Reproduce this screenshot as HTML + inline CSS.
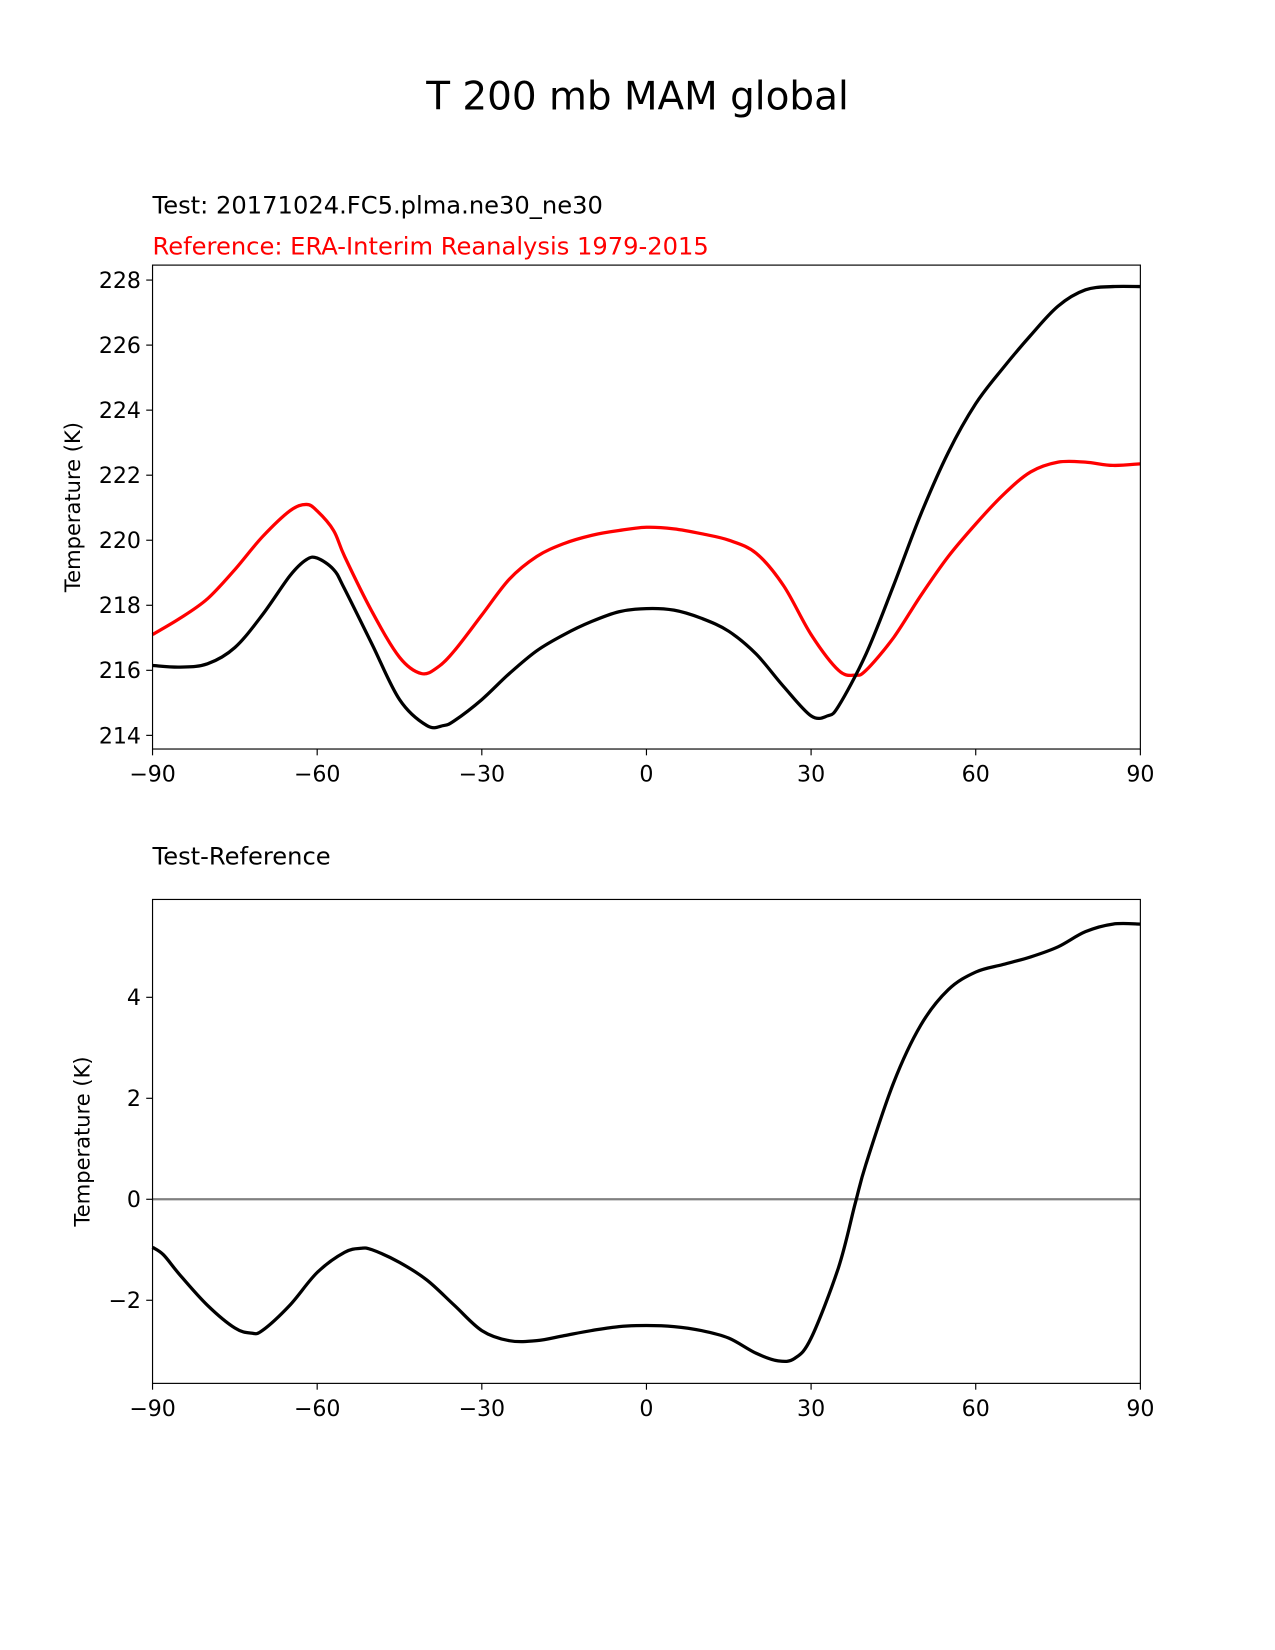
<!DOCTYPE html>
<html><head><meta charset="utf-8"><style>body{margin:0;background:#fff}svg{display:block;font-family:"DejaVu Sans","Liberation Sans",sans-serif}</style></head>
<body>
<svg width="1275" height="1650" viewBox="0 0 1275 1650">
<g id="s" transform="scale(1.052)">
<text x="606" y="104" font-size="37" text-anchor="middle">T 200 mb MAM global</text>
<text x="145" y="203" font-size="23">Test: 20171024.FC5.plma.ne30_ne30</text>
<text x="145" y="242" font-size="23" fill="#f00">Reference: ERA-Interim Reanalysis 1979-2015</text>
<text x="145" y="822" font-size="23">Test-Reference</text>
</g>
</svg>
<script>
const latTest=[-90,-85,-80,-75,-70,-65,-62,-60,-57,-55,-50,-45,-40,-37,-35,-30,-25,-20,-15,-10,-5,0,5,10,15,20,25,30,33,35,40,45,50,55,60,65,70,75,80,85,90];
const testVals=[216.15,216.1,216.2,216.7,217.7,218.9,219.4,219.45,219.1,218.5,216.8,215.1,214.3,214.3,214.45,215.1,215.9,216.6,217.1,217.5,217.8,217.9,217.85,217.6,217.2,216.5,215.5,214.6,214.6,214.9,216.5,218.6,220.8,222.7,224.2,225.3,226.3,227.2,227.7,227.8,227.8];
const latRef=[-90,-85,-80,-75,-70,-65,-62,-60,-57,-55,-50,-45,-41,-38,-35,-30,-25,-20,-15,-10,-5,0,5,10,15,20,25,30,35,38,40,45,50,55,60,65,70,75,80,85,90];
const refVals=[217.1,217.6,218.2,219.1,220.1,220.9,221.1,220.9,220.3,219.5,217.8,216.4,215.9,216.1,216.6,217.7,218.8,219.5,219.9,220.15,220.3,220.4,220.35,220.2,220.0,219.6,218.6,217.1,216.0,215.85,216.0,217.0,218.3,219.5,220.5,221.4,222.1,222.4,222.4,222.3,222.35];
const latDiff=[-90,-88,-85,-80,-75,-72,-70,-65,-60,-55,-52,-50,-45,-40,-35,-30,-25,-20,-15,-10,-5,0,5,10,15,20,24,27,30,35,38,40,45,50,55,60,65,70,75,80,85,90];
const diffVals=[-0.95,-1.1,-1.5,-2.1,-2.55,-2.65,-2.6,-2.1,-1.45,-1.05,-0.97,-1.0,-1.25,-1.6,-2.1,-2.6,-2.8,-2.8,-2.7,-2.6,-2.52,-2.5,-2.52,-2.6,-2.75,-3.05,-3.2,-3.15,-2.75,-1.35,-0.1,0.7,2.3,3.45,4.15,4.5,4.65,4.8,5.0,5.3,5.45,5.45];
const xTicks=[-90,-60,-30,0,30,60,90];
const xTickLabels=["\u221290","\u221260","\u221230","0","30","60","90"];
const topYTicks=[214,216,218,220,222,224,226,228];
const botYTicks=[-2,0,2,4];
const botYTickLabels=["\u22122","0","2","4"];

const NS="http://www.w3.org/2000/svg",svg=document.getElementById('s');
function mk(t,a,p){const e=document.createElementNS(NS,t);for(const k in a)e.setAttribute(k,a[k]);(p||svg).appendChild(e);return e;}
const X0=145,X1=1084;
const xs=v=>X0+(v+90)/180*(X1-X0);
function panel(top,bot,ymin,ymax,name){
  const ys=v=>bot-(v-ymin)/(ymax-ymin)*(bot-top);
  const g=mk('g',{});
  
  
  return {g,ys,top,bot};
}
function axes(P,yt,ytl,ylabX){
  const {g,ys,top,bot}=P;
  xTicks.forEach((t,i)=>{
    const x=xs(t);
    const l=mk('line',{x1:x,x2:x,y1:bot,y2:bot+6,stroke:'#000','stroke-width':1.1},g);
    
    const tx=mk('text',{x:x,y:bot+31,'font-size':21,'text-anchor':'middle'},g);tx.textContent=xTickLabels[i];
    
  });
  yt.forEach((t,i)=>{
    const y=ys(t);
    const l=mk('line',{x1:X0-6,x2:X0,y1:y,y2:y,stroke:'#000','stroke-width':1.1},g);
    
    const tx=mk('text',{x:X0-11,y:y+7.5,'font-size':21,'text-anchor':'end'},g);tx.textContent=ytl[i];
    
  });
  const yl=mk('text',{x:ylabX,y:(top+bot)/2,'font-size':20,'text-anchor':'middle',transform:`rotate(-90 ${ylabX} ${(top+bot)/2})`},g);
  yl.textContent='Temperature (K)';
  
}
function line(P,lats,vals,color,name){
  const p=lats.map((l,i)=>[xs(l),P.ys(vals[i])]);
  let d='M'+p[0][0].toFixed(1)+','+p[0][1].toFixed(1);
  for(let i=0;i<p.length-1;i++){
    const a=p[i-1]||p[i],b=p[i],c=p[i+1],e=p[i+2]||p[i+1];
    const c1=[b[0]+(c[0]-a[0])/6,b[1]+(c[1]-a[1])/6],c2=[c[0]-(e[0]-b[0])/6,c[1]-(e[1]-b[1])/6];
    d+=` C${c1[0].toFixed(1)},${c1[1].toFixed(1)} ${c2[0].toFixed(1)},${c2[1].toFixed(1)} ${c[0].toFixed(1)},${c[1].toFixed(1)}`;
  }
  const pl=mk('path',{d:d,fill:'none',stroke:color,'stroke-width':3.1,'stroke-linejoin':'round'},P.g);
  
}
function frame(P){
  const r=mk('rect',{x:X0,y:P.top,width:X1-X0,height:P.bot-P.top,fill:'none',stroke:'#000','stroke-width':1.1},P.g);
  
}
const A=panel(252,712,213.58,228.46,'top-panel');
axes(A,topYTicks,topYTicks.map(String),76);
line(A,latRef,refVals,'#f00','reference-line');
line(A,latTest,testVals,'#000','test-line');
frame(A);
const B=panel(855,1315,-3.646,5.938,'diff-panel');
axes(B,botYTicks,botYTickLabels,85);
const z=mk('line',{x1:X0,x2:X1,y1:B.ys(0),y2:B.ys(0),stroke:'#808080','stroke-width':2.1},B.g);

line(B,latDiff,diffVals,'#000','difference-line');
frame(B);
</script>
</body></html>
